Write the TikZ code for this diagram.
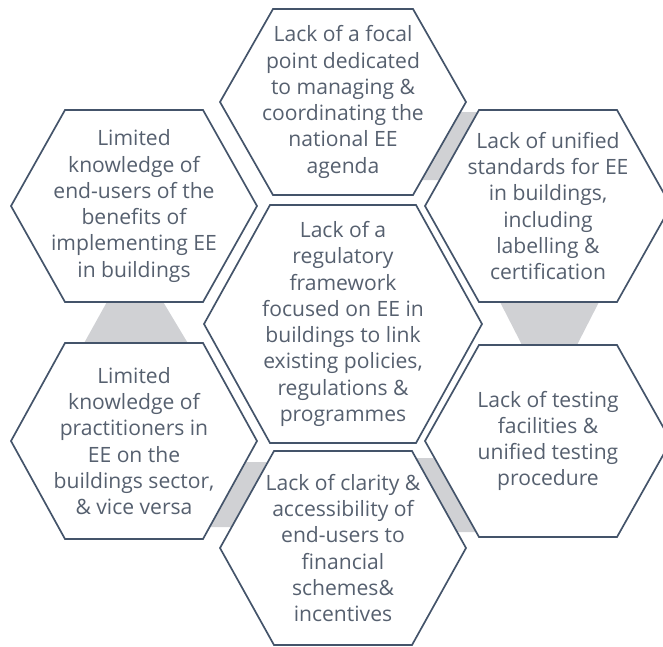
\documentclass[tikz,border=0pt]{standalone}
\usepackage{fontspec}
\setmainfont{Open Sans}
\usetikzlibrary{calc,backgrounds}

\definecolor{cellline}{HTML}{44546A}
\definecolor{celltxt}{HTML}{56606F}
\definecolor{linkgray}{HTML}{D0D1D4}

\tikzset{
  cell/.style={draw=cellline, fill=white, line width=1.2pt, line join=miter},
  barrier/.style={text=celltxt, align=center, inner sep=0pt,
    font=\fontsize{15}{18.7}\selectfont},
  link/.style={fill=linkgray},
}

% hexagon round a node: name, half width, half height, half top side
\newcommand{\hexcell}[4]{%
  \draw[cell] (#1) ++(-#2,0) -- ++(#2-#4,-#3) -- ++(2*#4,0)
    -- ++(#2-#4,#3) -- ++(#4-#2,#3) -- ++(-2*#4,0) -- cycle;}

\begin{document}
\begin{tikzpicture}[x=0.025cm,y=-0.025cm]
  \useasboundingbox (0,0) rectangle (663,646);

  % Texto de cada barrera
  \node[barrier] (framework) at (343,324) {Lack of a\\regulatory\\framework\\focused on EE in\\buildings to link\\existing policies,\\regulations \&\\programmes};
  \node[barrier] (focal) at (343,102) {Lack of a focal\\point dedicated\\to managing \&\\coordinating the\\national EE\\agenda};
  \node[barrier] (enduser) at (134,206) {Limited\\knowledge of\\end-users of the\\benefits of\\implementing EE\\in buildings};
  \node[barrier] (practitioner) at (134,441) {Limited\\knowledge of\\practitioners in\\EE on the\\buildings sector,\\\& vice versa};
  \node[barrier] (standards) at (548,206) {Lack of unified\\standards for EE\\in buildings,\\including\\labelling \&\\certification};
  \node[barrier] (testing) at (548,441) {Lack of testing\\facilities \&\\unified testing\\procedure};
  \node[barrier] (finance) at (343,548) {Lack of clarity \&\\accessibility of\\end-users to\\financial\\schemes\&\\incentives};

  \begin{scope}[on background layer]
    % Bandas grises entre celdas
    \fill[link] ($(focal)+(112,10)$) -- ($(focal)+(139,10)$) -- ($(focal)+(102,78)$) -- ($(focal)+(73,78)$) -- cycle;
    \fill[link] ($(enduser)+(-26,94)$) -- ($(enduser)+(28,94)$) -- ($(enduser)+(55,139)$) -- ($(enduser)+(-51,139)$) -- cycle;
    \fill[link] ($(standards)+(-49,94)$) -- ($(standards)+(52,94)$) -- ($(standards)+(29,139)$) -- ($(standards)+(-26,139)$) -- cycle;
    \fill[link] ($(finance)+(-103,-86)$) -- ($(finance)+(-70,-86)$) -- ($(finance)+(-106,-21)$) -- ($(finance)+(-139,-21)$) -- cycle;
    \fill[link] ($(finance)+(68,-90)$) -- ($(finance)+(97,-90)$) -- ($(finance)+(138,-16)$) -- ($(finance)+(109,-16)$) -- cycle;

    % Celdas hexagonales
    \hexcell{framework}{139}{119}{73}
    \hexcell{focal}{123}{93}{70}
    \hexcell{enduser}{123}{96}{69}
    \hexcell{practitioner}{123}{98}{69}
    \hexcell{standards}{123}{96}{69}
    \hexcell{testing}{123}{96}{69}
    \hexcell{finance}{123}{97}{69}
  \end{scope}
\end{tikzpicture}
\end{document}
